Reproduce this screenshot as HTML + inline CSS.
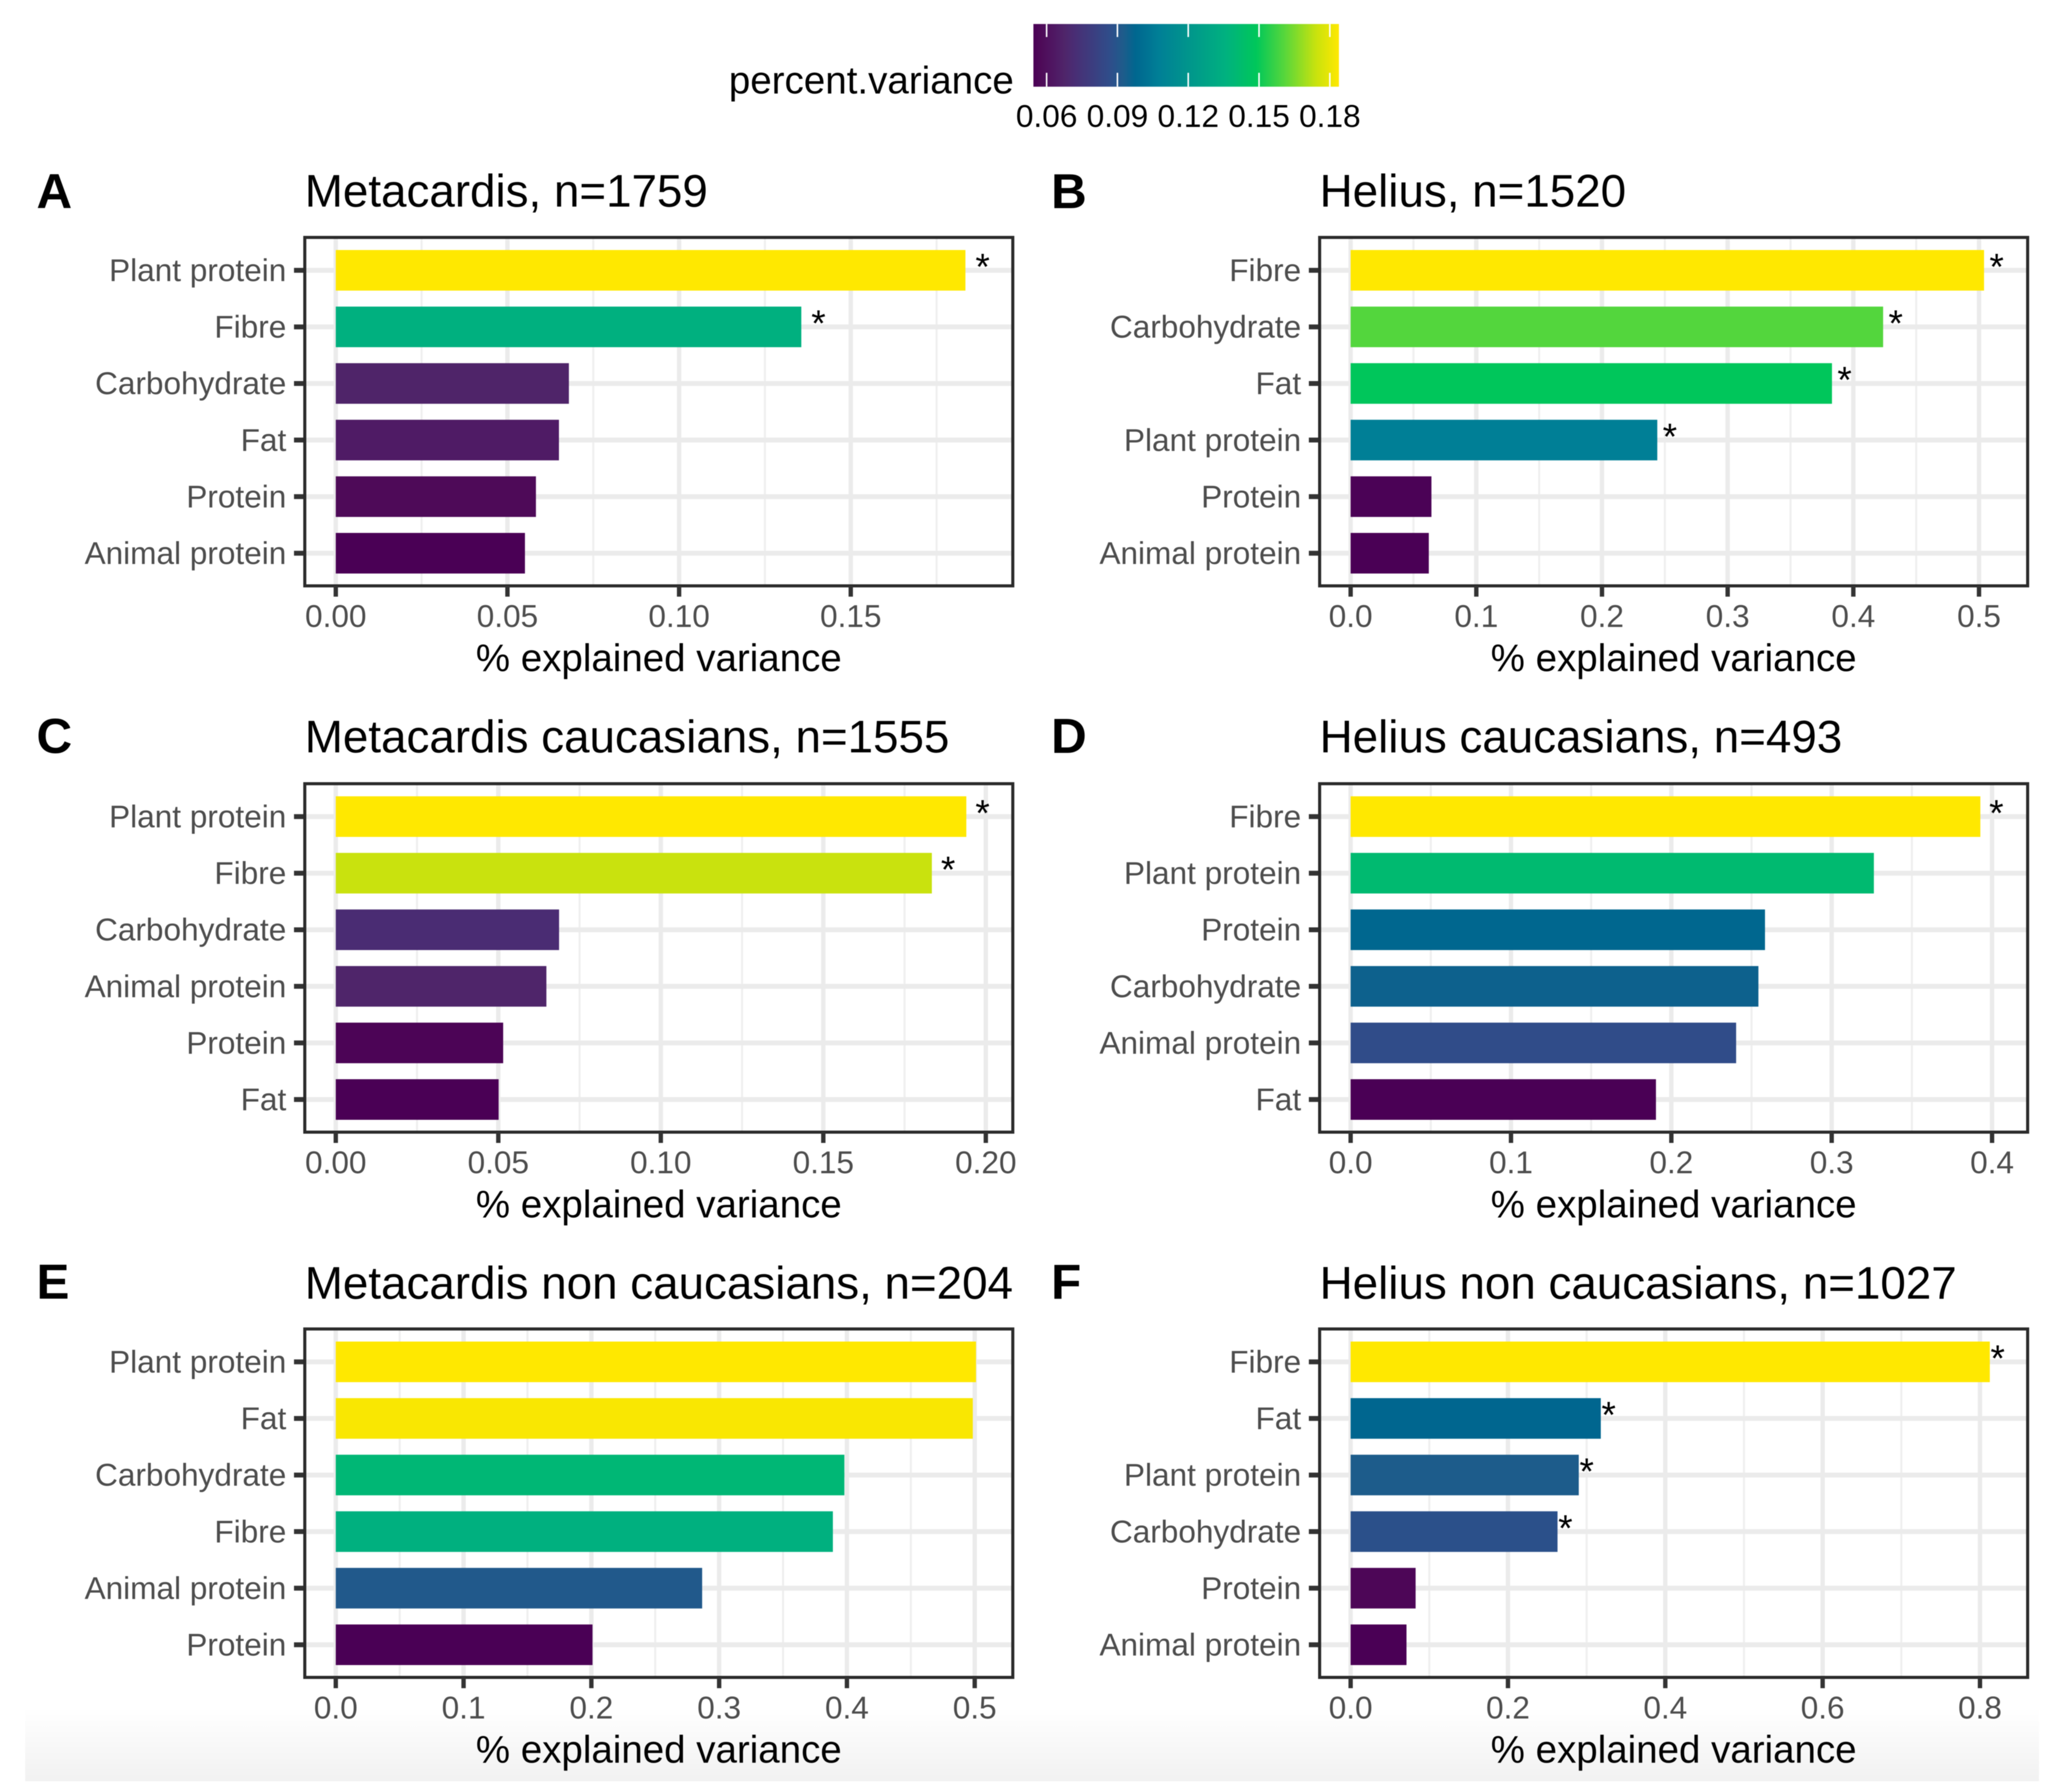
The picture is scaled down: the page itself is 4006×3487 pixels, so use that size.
<!DOCTYPE html>
<html lang="en">
<head>
<meta charset="utf-8">
<title>Percent explained variance by nutrient</title>
<style>
html,body{margin:0;padding:0;background:#fff;}
body{width:4006px;height:3487px;overflow:hidden;}
svg{display:block;filter:blur(0.8px);}
text{font-family:"Liberation Sans",sans-serif;}
</style>
</head>
<body>
<svg id="chart" xmlns="http://www.w3.org/2000/svg" width="4006" height="3487" viewBox="0 0 4006 3487">
  <defs>
    <linearGradient id="bottomFade" x1="0" y1="0" x2="0" y2="1">
      <stop offset="0" stop-color="#ffffff"/>
      <stop offset="1" stop-color="#f1f1f1"/>
    </linearGradient>
    <linearGradient id="legendGradient" x1="0" y1="0" x2="1" y2="0"></linearGradient>
  </defs>
  <rect x="0" y="0" width="4006" height="3487" fill="#ffffff"/>
  <rect x="49" y="3320" width="3918" height="146" fill="url(#bottomFade)"/>
</svg>
<script>
// ---- data ----
const categoriesA = ["Plant protein","Fibre","Carbohydrate","Fat","Protein","Animal protein"];
const valuesA = [0.1834,0.1356,0.0679,0.0650,0.0583,0.0551];
const starsA = [1,1,0,0,0,0];
const ticksA = ["0.00","0.05","0.10","0.15"];

const categoriesB = ["Fibre","Carbohydrate","Fat","Plant protein","Protein","Animal protein"];
const valuesB = [0.504,0.4237,0.383,0.244,0.0643,0.0622];
const starsB = [1,1,1,1,0,0];
const ticksB = ["0.0","0.1","0.2","0.3","0.4","0.5"];

const categoriesC = ["Plant protein","Fibre","Carbohydrate","Animal protein","Protein","Fat"];
const valuesC = [0.194,0.1834,0.0687,0.0648,0.0515,0.0501];
const starsC = [1,1,0,0,0,0];
const ticksC = ["0.00","0.05","0.10","0.15","0.20"];

const categoriesD = ["Fibre","Plant protein","Protein","Carbohydrate","Animal protein","Fat"];
const valuesD = [0.3927,0.3263,0.2584,0.2543,0.2404,0.1904];
const starsD = [1,0,0,0,0,0];
const ticksD = ["0.0","0.1","0.2","0.3","0.4"];

const categoriesE = ["Plant protein","Fat","Carbohydrate","Fibre","Animal protein","Protein"];
const valuesE = [0.501,0.4985,0.398,0.389,0.2867,0.2009];
const starsE = [0,0,0,0,0,0];
const ticksE = ["0.0","0.1","0.2","0.3","0.4","0.5"];

const categoriesF = ["Fibre","Fat","Plant protein","Carbohydrate","Protein","Animal protein"];
const valuesF = [0.8125,0.318,0.29,0.263,0.0826,0.071];
const starsF = [1,1,1,1,0,0];
const ticksF = ["0.0","0.2","0.4","0.6","0.8"];

const panelLetters = ["A","B","C","D","E","F"];
const panelTitles = ["Metacardis, n=1759","Helius, n=1520","Metacardis caucasians, n=1555","Helius caucasians, n=493","Metacardis non caucasians, n=204","Helius non caucasians, n=1027"];
const axisMaxima = [0.1972,0.5387,0.2083,0.4222,0.5298,0.8606];
const starOffsets = [0.005,0.01,0.005,0.01,0.01,0.01];
const legendTicks = ["0.06","0.09","0.12","0.15","0.18"];
const legendDomain = [0.0544,0.18385];
const paletteStops = [0,0.025,0.08,0.1,0.13,0.25,0.295,0.333,0.41,0.63,0.73,0.82,0.925,1];
const paletteColors = ["#4a0055","#4e0a58","#4f1c66","#4f2469","#4a2c73","#2f4d8a","#1d5c8b","#00668f","#007f96","#00b17f","#00c75a","#55d63c","#c8e20e","#ffe800"];

const allCategories = [categoriesA,categoriesB,categoriesC,categoriesD,categoriesE,categoriesF];
const allValues = [valuesA,valuesB,valuesC,valuesD,valuesE,valuesF];
const allStars = [starsA,starsB,starsC,starsD,starsE,starsF];
const allTicks = [ticksA,ticksB,ticksC,ticksD,ticksE,ticksF];

// ---- layout ----
const NS = "http://www.w3.org/2000/svg";
const svg = document.getElementById("chart");
const columnLeft = [593,2567.5];
const rowTop = [462,1525,2586];
const titleBase = [402,1464,2527];
const letterBase = [405,1465,2527];
const plotW = 1377.5, plotH = 678, zeroInset = 60.3, rowFirst = 64, rowStep = 110.1, barH = 79;

function mk(tag, attrs, parent){
  const el = document.createElementNS(NS, tag);
  for (const k in attrs) el.setAttribute(k, attrs[k]);
  (parent || svg).appendChild(el);
  return el;
}
function hexToRgb(h){ return [1,3,5].map(i => parseInt(h.substr(i,2),16)); }
function colorAt(t){
  t = Math.max(0, Math.min(1, t));
  for (let i = 1; i < paletteStops.length; i++){
    if (t <= paletteStops[i]){
      const f = (t - paletteStops[i-1]) / (paletteStops[i] - paletteStops[i-1]);
      const a = hexToRgb(paletteColors[i-1]), b = hexToRgb(paletteColors[i]);
      return "rgb(" + a.map((v,j) => Math.round(v + (b[j]-v)*f)).join(",") + ")";
    }
  }
  return paletteColors[paletteColors.length-1];
}

// ---- legend ----
const legendX = v => 2010.6 + (v - legendDomain[0]) / (legendDomain[1] - legendDomain[0]) * 594.4;
const gradient = document.getElementById("legendGradient");
paletteStops.forEach((s,i) => {
  mk("stop", {offset: s, "stop-color": paletteColors[i]}, gradient);
});
const legendTitle = mk("text", {x: 1418, y: 182, "font-size": 75, fill: "#000"});
legendTitle.textContent = "percent.variance";


const legendBar = mk("rect", {x: 2010.6, y: 46.7, width: 594.4, height: 122, fill: "url(#legendGradient)"});


legendTicks.forEach(label => {
  const x = legendX(parseFloat(label));
  const t1 = mk("line", {x1: x, x2: x, y1: 46.7, y2: 72, stroke: "#fff", "stroke-width": 3});
  
  
  const t2 = mk("line", {x1: x, x2: x, y1: 141.7, y2: 168.7, stroke: "#fff", "stroke-width": 3});
  
  
  const lab = mk("text", {x: x, y: 247, "font-size": 61.5, "text-anchor": "middle", fill: "#000"});
  lab.textContent = label;
  
  
});

// ---- panels ----
panelLetters.forEach((letter, p) => {
  const rowIndex = Math.floor(p / 2);
  const left = columnLeft[p % 2], top = rowTop[rowIndex];
  const right = left + plotW, bottom = top + plotH;
  const values = allValues[p], cats = allCategories[p], stars = allStars[p], ticks = allTicks[p];
  const xMax = axisMaxima[p];
  const xScale = v => left + zeroInset + v / xMax * (plotW - zeroInset);
  const yScale = i => top + rowFirst + i * rowStep;
  const vMin = Math.min(...values), vMax = Math.max(...values);

  const g = mk("g", {});
  
  

  const tag = mk("text", {x: p % 2 ? 2045 : 71, y: letterBase[rowIndex], "font-size": 96, "font-weight": "bold", fill: "#000"}, g);
  tag.textContent = letter;
  
  

  const title = mk("text", {x: left, y: titleBase[rowIndex], "font-size": 89, fill: "#000"}, g);
  title.textContent = panelTitles[p];
  
  

  // gridlines
  const step = parseFloat(ticks[1]) - parseFloat(ticks[0]);
  for (let k = 0; k * step / 2 <= xMax; k++){
    const major = k % 2 === 0;
    const xg = xScale(k * step / 2);
    const line = mk("line", {x1: xg, x2: xg, y1: top, y2: bottom, stroke: major ? "#ebebeb" : "#efefef", "stroke-width": major ? 8.5 : 4}, g);
    
    
  }
  cats.forEach((c,i) => {
    const line = mk("line", {x1: left, x2: right, y1: yScale(i), y2: yScale(i), stroke: "#ebebeb", "stroke-width": 9.5}, g);
    
    
  });

  // bars, category labels, stars
  values.forEach((v,i) => {
    const cy = yScale(i);
    const bar = mk("rect", {x: xScale(0), y: cy - barH / 2, width: xScale(v) - xScale(0), height: barH,
                            fill: colorAt((v - vMin) / (vMax - vMin))}, g);
    
    

    const tick = mk("line", {x1: left - 21, x2: left, y1: cy, y2: cy, stroke: "#333", "stroke-width": 9.5}, g);
    
    

    const lab = mk("text", {x: left - 36, y: cy + 21, "font-size": 61.4, "text-anchor": "end", fill: "#4d4d4d"}, g);
    lab.textContent = cats[i];
    
    

    if (stars[i]){
      const star = mk("text", {x: xScale(v + starOffsets[p]), y: cy + 18, "font-size": 72, "text-anchor": "middle", fill: "#000"}, g);
      star.textContent = "*";
      
      
    }
  });

  // border
  const border = mk("rect", {x: left, y: top, width: plotW, height: plotH, fill: "none", stroke: "#2b2b2b", "stroke-width": 6}, g);
  
  

  // x axis
  ticks.forEach(label => {
    const xt = xScale(parseFloat(label));
    const tick = mk("line", {x1: xt, x2: xt, y1: bottom, y2: bottom + 21, stroke: "#333", "stroke-width": 8.5}, g);
    
    
    const lab = mk("text", {x: xt, y: bottom + 80, "font-size": 61.4, "text-anchor": "middle", fill: "#4d4d4d"}, g);
    lab.textContent = label;
    
    
  });
  const axisTitle = mk("text", {x: (left + right) / 2, y: bottom + 166, "font-size": 74.9, "text-anchor": "middle", fill: "#000"}, g);
  axisTitle.textContent = "% explained variance";
  
  
});
</script>
</body>
</html>
